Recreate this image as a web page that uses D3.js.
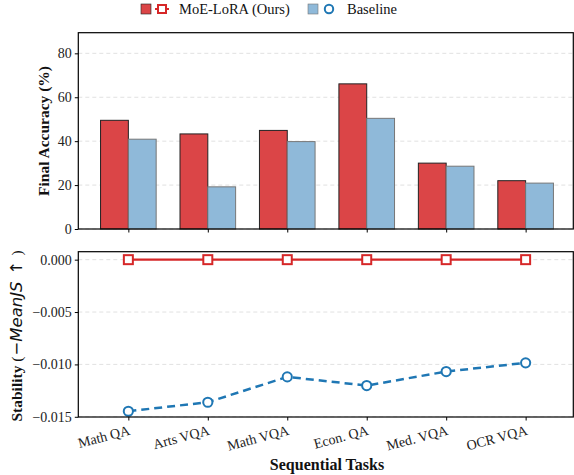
<!DOCTYPE html>
<html><head><meta charset="utf-8">
<script src="https://cdn.jsdelivr.net/npm/d3@7"></script>
<style>body{margin:0;background:#fff}svg{display:block}text{font-family:"Liberation Serif","Times New Roman",serif}</style>
</head><body><svg id="c" width="574" height="475"></svg>
<script>
const tasks = ["Math QA","Arts VQA","Math VQA","Econ. QA","Med. VQA","OCR VQA"];
const accMoE = [49.5,43.3,44.9,66.1,30.0,22.0];
const accBase = [40.9,19.2,39.8,50.4,28.6,20.9];
const stabMoE = [0,0,0,0,0,0];
const stabBase = [-0.01447,-0.01361,-0.01119,-0.01202,-0.01068,-0.00985];
const accTicks = [0,20,40,60,80];
const stabTicks = [0,-0.005,-0.010,-0.015];
const seriesNames = ["MoE-LoRA (Ours)","Baseline"];

const svg = d3.select("#c");
const L = 78.3, R = 573.3;
const x = d3.scaleLinear().domain([-0.63,5.6]).range([L,R]);
const yA = d3.scaleLinear().domain([0,89.4]).range([229,32.7]);
const yS = d3.scaleLinear().domain([-0.01502,0.00076]).range([417,251.7]);
const RED="#d62728", BLUE="#1f77b4";

function grid(y, ticks){
  svg.append("g").selectAll("line").data(ticks).join("line")
    .attr("x1",L).attr("x2",R).attr("y1",d=>y(d)).attr("y2",d=>y(d))
    .attr("stroke","#d9d9d9").attr("stroke-width",0.8).attr("stroke-dasharray","4,3");
}
grid(yA, accTicks); grid(yS, stabTicks);

// bars
const bw = 0.35;
const bars = svg.append("g");
bars.selectAll("rect.m").data(accMoE).join("rect")
  .attr("x",(d,i)=>x(i-bw)).attr("width",x(bw)-x(0))
  .attr("y",d=>yA(d)).attr("height",d=>yA(0)-yA(d))
  .attr("fill","#db4547").attr("stroke","#222").attr("stroke-width",1);
bars.selectAll("rect.b").data(accBase).join("rect")
  .attr("x",(d,i)=>x(i)).attr("width",x(bw)-x(0))
  .attr("y",d=>yA(d)).attr("height",d=>yA(0)-yA(d))
  .attr("fill","#8fb9d9").attr("stroke","#777").attr("stroke-width",1);

// lines
const line = d3.line().x((d,i)=>x(i)).y(d=>yS(d));
svg.append("path").datum(stabMoE).attr("d",line).attr("fill","none").attr("stroke",RED).attr("stroke-width",2.2);
svg.append("path").datum(stabBase).attr("d",line).attr("fill","none").attr("stroke",BLUE).attr("stroke-width",2.5).attr("stroke-dasharray","8,5");
svg.append("g").selectAll("rect").data(stabMoE).join("rect")
  .attr("x",(d,i)=>x(i)-4.5).attr("y",d=>yS(d)-4.5).attr("width",9).attr("height",9)
  .attr("fill","#fff").attr("stroke",RED).attr("stroke-width",2);
svg.append("g").selectAll("circle").data(stabBase).join("circle")
  .attr("cx",(d,i)=>x(i)).attr("cy",d=>yS(d)).attr("r",4.6)
  .attr("fill","#fff").attr("stroke",BLUE).attr("stroke-width",2);

// frames
function frame(y){
  const [b,t]=y.range();
  svg.append("rect").attr("x",L).attr("y",t).attr("width",R-L).attr("height",b-t)
    .attr("fill","none").attr("stroke","#000").attr("stroke-width",1.2);
}
frame(yA); frame(yS);

// axes
const fmtS = d=> d===0?"0.000":"\u2212"+Math.abs(d).toFixed(3);
const ayA = svg.append("g").attr("transform",`translate(${L},0)`)
  .call(d3.axisLeft(yA).tickValues(accTicks).tickSize(3.5).tickPadding(3));
const ayS = svg.append("g").attr("transform",`translate(${L},0)`)
  .call(d3.axisLeft(yS).tickValues(stabTicks).tickFormat(fmtS).tickSize(3.5).tickPadding(3));
const axT = svg.append("g").attr("transform",`translate(0,229)`)
  .call(d3.axisBottom(x).tickValues(d3.range(tasks.length)).tickFormat("").tickSize(3.5));
const axB = svg.append("g").attr("transform",`translate(0,417)`)
  .call(d3.axisBottom(x).tickValues(d3.range(tasks.length)).tickFormat(i=>tasks[i]).tickSize(3.5).tickPadding(4));
[ayA,ayS,axT,axB].forEach(g=>{
  g.select(".domain").remove();
  g.selectAll("line").attr("stroke","#000").attr("stroke-width",1);
  g.selectAll("text").attr("font-family","Liberation Serif").attr("font-size",14).attr("fill","#222");
});
axB.selectAll("text").attr("text-anchor","end").attr("dy","0.3em")
  .attr("transform","translate(-1,6) rotate(-15)");

// axis titles
svg.append("text").attr("transform","translate(49,131) rotate(-90)").attr("text-anchor","middle")
  .attr("font-weight","bold").attr("font-size",15.5).attr("fill","#111").text("Final Accuracy (%)");
const st = svg.append("text").attr("transform","translate(22,336) rotate(-90)").attr("text-anchor","middle")
  .attr("font-size",15.5).attr("fill","#111");
st.append("tspan").attr("font-weight","bold").text("Stability ");
st.append("tspan").text("(");
st.append("tspan").attr("font-family","DejaVu Sans").attr("font-style","italic").attr("font-size",16.5).attr("dx",1).text("\u2212MeanJS");
st.append("tspan").attr("font-family","DejaVu Sans").attr("font-size",16.5).attr("dx",7).text("\u2191");
st.append("tspan").attr("dx",5).text(")");
svg.append("text").attr("x",327).attr("y",470).attr("text-anchor","middle")
  .attr("font-weight","bold").attr("font-size",16).attr("fill","#111").text("Sequential Tasks");

// legend
const lg = svg.append("g");
lg.append("rect").attr("x",141).attr("y",4).attr("width",10).attr("height",10).attr("fill","#db4547").attr("stroke","#222").attr("stroke-width",0.6);
lg.append("line").attr("x1",155).attr("x2",169).attr("y1",9).attr("y2",9).attr("stroke",RED).attr("stroke-width",2);
lg.append("rect").attr("x",158).attr("y",5).attr("width",8).attr("height",8).attr("fill","#fff").attr("stroke",RED).attr("stroke-width",2);
lg.append("text").attr("x",179).attr("y",14).attr("font-size",14.5).attr("fill","#111").text(seriesNames[0]);
lg.append("rect").attr("x",308).attr("y",4).attr("width",10).attr("height",10).attr("fill","#8fb9d9").attr("stroke","#777").attr("stroke-width",0.6);
lg.append("circle").attr("cx",329).attr("cy",9).attr("r",4.2).attr("fill","#fff").attr("stroke",BLUE).attr("stroke-width",2);
lg.append("text").attr("x",347).attr("y",14).attr("font-size",14.5).attr("fill","#111").text(seriesNames[1]);
</script></body></html>
